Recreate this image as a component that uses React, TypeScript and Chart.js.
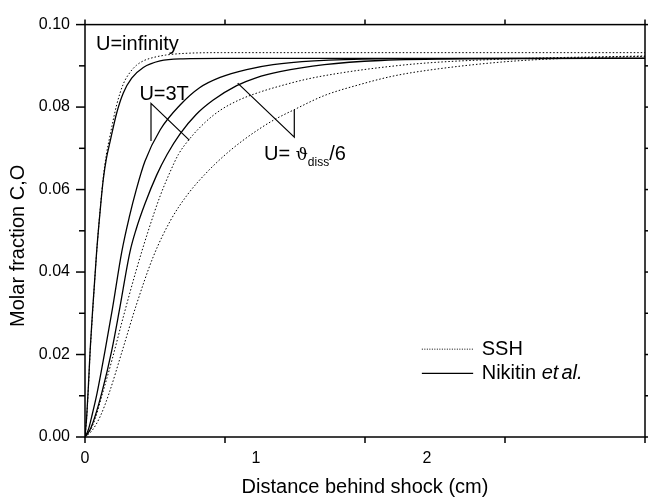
import React, { useEffect, useRef } from 'react';
import { Chart, registerables } from 'chart.js';

Chart.register(...registerables);

// ---- axes ----
const X_MAX = 3.275;
const X_TICK_LABELS = [0, 1, 2];
const X_TICK_MARKS = 4;
const Y_MAX = 0.1;
const Y_STEP = 0.01;

// ---- Nikitin et al. (solid) ----
const nikInfX = [0, 0.01, 0.02, 0.03, 0.045, 0.068, 0.09, 0.107, 0.125, 0.146, 0.185, 0.224, 0.273, 0.341, 0.439, 0.573, 0.8, 3.275];
const nikInfY = [0, 0.005, 0.0125, 0.021, 0.031, 0.0449, 0.0555, 0.0625, 0.0675, 0.0715, 0.0785, 0.0834, 0.087, 0.0896, 0.0912, 0.0917, 0.0918, 0.0918];
const nik3TX = [0, 0.02, 0.039, 0.07, 0.117, 0.16, 0.215, 0.26, 0.3, 0.35, 0.44, 0.556, 0.67, 0.79, 0.945, 1.1, 1.34, 1.73, 2.5, 3.275];
const nik3TY = [0, 0.0018, 0.0049, 0.0105, 0.0209, 0.031, 0.0449, 0.0535, 0.06, 0.0668, 0.0745, 0.0805, 0.0847, 0.0872, 0.0891, 0.0903, 0.0912, 0.0917, 0.0918, 0.0918];
const nikDissX = [0, 0.03, 0.058, 0.1, 0.156, 0.2, 0.263, 0.3, 0.35, 0.419, 0.48, 0.556, 0.65, 0.75, 0.887, 1.0, 1.14, 1.4, 1.73, 2.2, 3.275];
const nikDissY = [0, 0.0018, 0.0049, 0.011, 0.0209, 0.0305, 0.0449, 0.0505, 0.0565, 0.0635, 0.0685, 0.0735, 0.0782, 0.0817, 0.0852, 0.0871, 0.0886, 0.0903, 0.0913, 0.0917, 0.0918];

// ---- SSH (dotted) ----
const sshInfX = [0, 0.01, 0.02, 0.03, 0.045, 0.068, 0.09, 0.107, 0.125, 0.146, 0.185, 0.224, 0.263, 0.3, 0.341, 0.38, 0.47, 0.573, 0.8, 3.275];
const sshInfY = [0, 0.0048, 0.012, 0.0205, 0.0305, 0.0447, 0.0557, 0.063, 0.0685, 0.073, 0.0805, 0.0856, 0.0884, 0.0901, 0.0912, 0.0918, 0.0926, 0.093, 0.0932, 0.0932];
const ssh3TX = [0, 0.03, 0.06, 0.1, 0.16, 0.22, 0.3, 0.37, 0.44, 0.5, 0.546, 0.61, 0.7, 0.79, 0.9, 1.02, 1.14, 1.3, 1.5, 1.73, 2.0, 2.5, 3.275];
const ssh3TY = [0, 0.0015, 0.0045, 0.0102, 0.019, 0.0285, 0.0405, 0.05, 0.0585, 0.0645, 0.0685, 0.0722, 0.0762, 0.0792, 0.0817, 0.0836, 0.0851, 0.0868, 0.0883, 0.0896, 0.0907, 0.0917, 0.0924];
const sshDissX = [0, 0.04, 0.088, 0.14, 0.215, 0.3, 0.4, 0.5, 0.6, 0.72, 0.83, 0.92, 1.023, 1.11, 1.22, 1.4, 1.61, 1.8, 2.0, 2.43, 2.8, 3.275];
const sshDissY = [0, 0.0015, 0.0049, 0.0105, 0.0205, 0.032, 0.0438, 0.0525, 0.0588, 0.0645, 0.0688, 0.0718, 0.0748, 0.077, 0.0793, 0.0828, 0.0855, 0.0875, 0.0889, 0.0909, 0.0918, 0.0923];

// ---- annotations (data units) ----
const ANNOT_3T_LINE = [[0.386, 0.0718], [0.386, 0.0809], [0.61, 0.072]];
const ANNOT_DISS_LINE = [[0.893, 0.0858], [1.224, 0.0727], [1.224, 0.0793]];
const LABEL_INF = { x: 0.064, y: 0.0939, text: 'U=infinity' };
const LABEL_3T = { x: 0.318, y: 0.0817, text: 'U=3T' };
const LABEL_DISS = { x: 1.047, y: 0.0672 };
const LEGEND_POS = { x0: 1.97, x1: 2.27, xt: 2.32, y1: 0.0213, y2: 0.01545 };

const FONT = '"Liberation Sans", Arial, sans-serif';
const DASH = [1.5, 2];

const pts = (xs: number[], ys: number[]) => xs.map((x, i) => ({ x, y: ys[i] }));

const decorPlugin = {
  id: 'decor',
  afterDraw(chart: any) {
    const ctx = chart.ctx as CanvasRenderingContext2D;
    const xs = chart.scales.x;
    const ys = chart.scales.y;
    const { left, right, top, bottom } = chart.chartArea;
    const X = (v: number) => xs.getPixelForValue(v);
    const Y = (v: number) => ys.getPixelForValue(v);
    const line = (x1: number, y1: number, x2: number, y2: number) => {
      ctx.beginPath();
      ctx.moveTo(x1, y1);
      ctx.lineTo(x2, y2);
      ctx.stroke();
    };
    ctx.save();
    ctx.strokeStyle = '#000';
    ctx.fillStyle = '#000';
    ctx.lineWidth = 1.5;
    ctx.strokeRect(left, top, right - left, bottom - top);
    for (let i = 0; i <= X_TICK_MARKS; i++) {
      const px = X((X_MAX * i) / X_TICK_MARKS);
      line(px, bottom, px, bottom + 6);
      line(px, top, px, top - 5);
    }
    const n = Math.round(Y_MAX / Y_STEP);
    for (let k = 0; k <= n; k++) {
      const py = Y(k * Y_STEP);
      const len = k % 2 === 0 ? 9 : 6;
      line(left - len, py, left, py);
      line(right, py, right + len, py);
    }

    // annotation pointer lines
    ctx.lineWidth = 1.2;
    for (const poly of [ANNOT_3T_LINE, ANNOT_DISS_LINE]) {
      ctx.beginPath();
      poly.forEach(([vx, vy], i) => (i === 0 ? ctx.moveTo(X(vx), Y(vy)) : ctx.lineTo(X(vx), Y(vy))));
      ctx.stroke();
    }

    // annotation texts
    ctx.textBaseline = 'alphabetic';
    ctx.textAlign = 'left';
    ctx.font = `20px ${FONT}`;
    ctx.fillText(LABEL_INF.text, X(LABEL_INF.x), Y(LABEL_INF.y));
    ctx.fillText(LABEL_3T.text, X(LABEL_3T.x), Y(LABEL_3T.y));
    let tx = X(LABEL_DISS.x);
    const ty = Y(LABEL_DISS.y);
    const part1 = 'U= ';
    ctx.fillText(part1, tx, ty);
    tx += ctx.measureText(part1).width;
    ctx.font = `17px "DejaVu Serif", serif`;
    ctx.fillText('ϑ', tx, ty);
    tx += ctx.measureText('ϑ').width;
    ctx.font = `12px ${FONT}`;
    ctx.fillText('diss', tx, ty + 6);
    tx += ctx.measureText('diss').width;
    ctx.font = `20px ${FONT}`;
    ctx.fillText('/6', tx, ty);

    // legend
    const ly1 = Y(LEGEND_POS.y1);
    const ly2 = Y(LEGEND_POS.y2);
    ctx.lineWidth = 1;
    ctx.setLineDash([1, 1.5]);
    line(X(LEGEND_POS.x0), ly1, X(LEGEND_POS.x1), ly1);
    ctx.setLineDash([]);
    ctx.lineWidth = 1.2;
    line(X(LEGEND_POS.x0), ly2, X(LEGEND_POS.x1), ly2);
    ctx.textBaseline = 'middle';
    ctx.font = `20px ${FONT}`;
    const lx = X(LEGEND_POS.xt);
    ctx.fillText('SSH', lx, ly1);
    ctx.fillText('Nikitin ', lx, ly2);
    const w = ctx.measureText('Nikitin ').width;
    ctx.font = `italic 20px ${FONT}`;
    ctx.fillText('et', lx + w, ly2);
    const w2 = ctx.measureText('et').width;
    ctx.fillText('al.', lx + w + w2 + 3, ly2);

    // y-axis title
    ctx.save();
    ctx.translate(left - 67, (top + bottom) / 2 + 15);
    ctx.rotate(-Math.PI / 2);
    ctx.textAlign = 'center';
    ctx.textBaseline = 'middle';
    ctx.font = `20px ${FONT}`;
    ctx.fillText('Molar fraction C,O', 0, 0);
    ctx.restore();

    ctx.restore();
  },
};

export default function App() {
  const ref = useRef<HTMLCanvasElement | null>(null);
  useEffect(() => {
    if (!ref.current) return;
    const solid = { borderColor: '#000', borderWidth: 1.3, pointRadius: 0, showLine: true, fill: false, cubicInterpolationMode: 'monotone' as const };
    const dotted = { ...solid, borderWidth: 1, borderDash: DASH };
    const chart = new Chart(ref.current, {
      type: 'scatter',
      data: {
        datasets: [
          { label: 'Nikitin U=infinity', data: pts(nikInfX, nikInfY), ...solid },
          { label: 'Nikitin U=3T', data: pts(nik3TX, nik3TY), ...solid },
          { label: 'Nikitin U=diss/6', data: pts(nikDissX, nikDissY), ...solid },
          { label: 'SSH U=infinity', data: pts(sshInfX, sshInfY), ...dotted },
          { label: 'SSH U=3T', data: pts(ssh3TX, ssh3TY), ...dotted },
          { label: 'SSH U=diss/6', data: pts(sshDissX, sshDissY), ...dotted },
        ] as any,
      },
      options: {
        animation: false,
        responsive: false,
        devicePixelRatio: 1,
        layout: { padding: { top: 21, right: 3, left: 0, bottom: 0 } },
        plugins: { legend: { display: false }, tooltip: { enabled: false } },
        scales: {
          x: {
            type: 'linear',
            min: 0,
            max: X_MAX,
            afterBuildTicks: (s: any) => {
              s.ticks = X_TICK_LABELS.map((v) => ({ value: v }));
            },
            afterFit: (s: any) => {
              s.height = 60;
            },
            grid: { display: false, drawTicks: false },
            border: { display: false },
            ticks: {
              color: '#000',
              padding: 12,
              font: { family: FONT, size: 16 },
              maxRotation: 0,
              autoSkip: false,
              callback: (v: any) => String(v),
            },
            title: {
              display: true,
              text: 'Distance behind shock (cm)',
              color: '#000',
              font: { family: FONT, size: 20, lineHeight: 1 },
              padding: { top: 0, bottom: 0 },
            },
          },
          y: {
            type: 'linear',
            min: 0,
            max: Y_MAX,
            afterFit: (s: any) => {
              s.width = 85;
            },
            grid: { display: false, drawTicks: false },
            border: { display: false },
            ticks: {
              stepSize: Y_STEP,
              color: '#000',
              padding: 15,
              font: { family: FONT, size: 16 },
              autoSkip: false,
              callback: (v: any) => {
                const k = Math.round(Number(v) / Y_STEP);
                return k % 2 === 0 ? (k * Y_STEP).toFixed(2) : '';
              },
            },
          },
        },
      },
      plugins: [decorPlugin],
    });
    return () => chart.destroy();
  }, []);
  return (
    <div style={{ position: 'fixed', left: 0, top: 0, width: 648, height: 497, background: '#fff' }}>
      <canvas ref={ref} width={648} height={497} style={{ display: 'block' }} />
    </div>
  );
}
